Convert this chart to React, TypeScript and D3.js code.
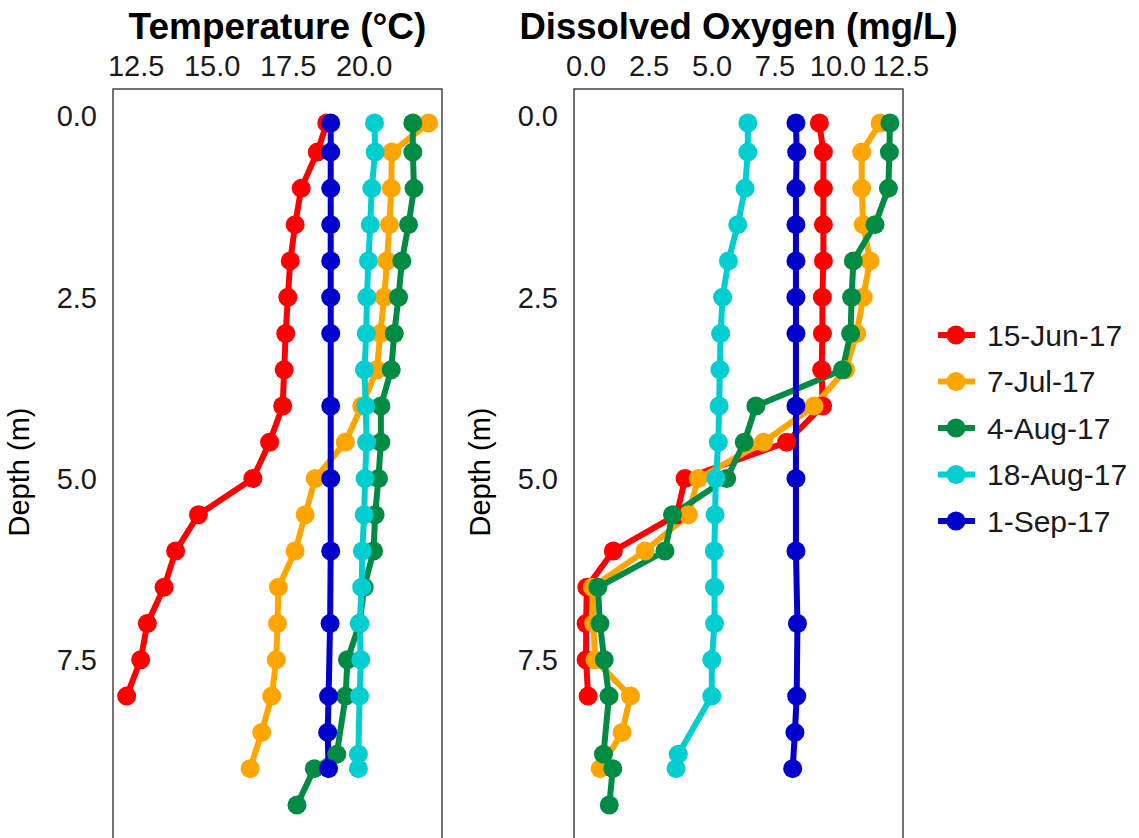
import React from "react";
import * as d3 from "d3";

const seriesNames = ["15-Jun-17", "7-Jul-17", "4-Aug-17", "18-Aug-17", "1-Sep-17"];
const seriesColors = ["#FF0000", "#FFA500", "#008B45", "#00CED1", "#0000CD"];

const depthJun = [0.1, 0.5, 1, 1.5, 2, 2.5, 3, 3.5, 4, 4.5, 5, 5.5, 6, 6.5, 7, 7.5, 8];
const depthJul = [0.1, 0.5, 1, 1.5, 2, 2.5, 3, 3.5, 4, 4.5, 5, 5.5, 6, 6.5, 7, 7.5, 8, 8.5, 9];
const depthAug4 = [0.1, 0.5, 1, 1.5, 2, 2.5, 3, 3.5, 4, 4.5, 5, 5.5, 6, 6.5, 7, 7.5, 8, 8.8, 9, 9.5];
const depthAug18 = [0.1, 0.5, 1, 1.5, 2, 2.5, 3, 3.5, 4, 4.5, 5, 5.5, 6, 6.5, 7, 7.5, 8, 8.8, 9];
const depthSep = [0.1, 0.5, 1, 1.5, 2, 2.5, 3, 4, 5, 6, 7, 8, 8.5, 9];

const tempJun = [18.77, 18.46, 17.93, 17.73, 17.57, 17.49, 17.42, 17.37, 17.32, 16.89, 16.34, 14.55, 13.8, 13.42, 12.87, 12.65, 12.19];
const tempJul = [22.12, 20.91, 20.89, 20.83, 20.75, 20.66, 20.53, 20.42, 19.92, 19.38, 18.39, 18.06, 17.73, 17.18, 17.15, 17.11, 16.96, 16.63, 16.25];
const tempAug4 = [21.6, 21.6, 21.64, 21.46, 21.24, 21.13, 20.99, 20.89, 20.55, 20.55, 20.47, 20.36, 20.31, 20.0, 19.85, 19.45, 19.39, 19.1, 18.36, 17.79];
const tempAug18 = [20.34, 20.36, 20.25, 20.2, 20.14, 20.09, 20.07, 20.01, 20.05, 20.08, 20.03, 20.0, 19.94, 19.92, 19.85, 19.89, 19.85, 19.81, 19.81];
const tempSep = [18.9, 18.9, 18.9, 18.9, 18.9, 18.9, 18.9, 18.9, 18.9, 18.9, 18.88, 18.83, 18.8, 18.83];

const doJun = [9.26, 9.42, 9.42, 9.42, 9.42, 9.38, 9.38, 9.35, 9.39, 7.96, 3.93, 3.6, 1.08, 0.03, 0.0, 0.0, 0.08];
const doJul = [11.67, 10.94, 10.94, 11.0, 11.27, 11.0, 10.74, 10.3, 9.05, 7.04, 4.45, 4.06, 2.34, 0.25, 0.3, 0.35, 1.76, 1.43, 0.56];
const doAug4 = [12.06, 12.04, 12.0, 11.47, 10.61, 10.54, 10.5, 10.18, 6.74, 6.28, 5.58, 3.43, 3.13, 0.47, 0.55, 0.72, 0.91, 0.69, 1.06, 0.92];
const doAug18 = [6.42, 6.42, 6.31, 6.02, 5.65, 5.42, 5.34, 5.31, 5.28, 5.25, 5.15, 5.12, 5.09, 5.1, 5.1, 4.99, 4.99, 3.66, 3.57];
const doSep = [8.33, 8.36, 8.33, 8.33, 8.33, 8.33, 8.33, 8.33, 8.33, 8.33, 8.39, 8.36, 8.29, 8.2];

const depthTicks = [0, 2.5, 5, 7.5];
const tempTicks = [12.5, 15, 17.5, 20];
const doTicks = [0, 2.5, 5, 7.5, 10, 12.5];

const depths = [depthJun, depthJul, depthAug4, depthAug18, depthSep];
const temps = [tempJun, tempJul, tempAug4, tempAug18, tempSep];
const dos = [doJun, doJul, doAug4, doAug18, doSep];

const FONT = "'Liberation Sans', Arial, Helvetica, sans-serif";
const PANEL_TOP = 89;
const PANEL_BOTTOM = 839;

const yScale = d3.scaleLinear().domain([-0.37, 9.97]).range([PANEL_TOP, PANEL_BOTTOM]);

type PanelProps = {
  title: string;
  titleSize: number;
  left: number;
  right: number;
  domain: [number, number];
  ticks: number[];
  values: number[][];
};

function Panel({ title, titleSize, left, right, domain, ticks, values }: PanelProps) {
  const x = d3.scaleLinear().domain(domain).range([left, right]);
  const line = d3
    .line<[number, number]>()
    .x((d) => x(d[0]))
    .y((d) => yScale(d[1]));
  const fmt = d3.format(".1f");
  const cx = (left + right) / 2;
  return (
    <g>
      <text x={cx} y={39} textAnchor="middle" fontFamily={FONT} fontWeight="bold" fontSize={titleSize} fill="#000">
        {title}
      </text>
      {ticks.map((t) => (
        <text key={"xt" + t} x={x(t)} y={76} textAnchor="middle" fontFamily={FONT} fontSize={29} fill="#1a1a1a">
          {fmt(t)}
        </text>
      ))}
      {depthTicks.map((t) => (
        <text key={"yt" + t} x={left - 16} y={yScale(t)} dy="0.36em" textAnchor="end" fontFamily={FONT} fontSize={29} fill="#1a1a1a">
          {fmt(t)}
        </text>
      ))}
      <text
        transform={`translate(${left - 84},${(PANEL_TOP + PANEL_BOTTOM) / 2 + 8}) rotate(-90)`}
        textAnchor="middle"
        fontFamily={FONT}
        fontSize={29}
        fill="#000"
      >
        Depth (m)
      </text>
      <rect x={left} y={PANEL_TOP} width={right - left} height={PANEL_BOTTOM - PANEL_TOP} fill="white" stroke="#444" strokeWidth={1.5} />
      {values.map((vals, i) => {
        const pts: [number, number][] = vals.map((v, j) => [v, depths[i][j]]);
        return <path key={"l" + i} d={line(pts) || ""} fill="none" stroke={seriesColors[i]} strokeWidth={6} strokeLinejoin="round" />;
      })}
      {values.map((vals, i) => (
        <g key={"p" + i}>
          {vals.map((v, j) => (
            <circle key={j} cx={x(v)} cy={yScale(depths[i][j])} r={9.5} fill={seriesColors[i]} />
          ))}
        </g>
      ))}
    </g>
  );
}

export default function App() {
  const legendY = d3.scaleLinear().domain([0, 4]).range([335, 521]);
  return (
    <svg width={1139} height={838} style={{ position: "absolute", left: 0, top: 0, background: "white" }}>
      <rect x={0} y={0} width={1139} height={838} fill="white" />
      <Panel title="Temperature (°C)" titleSize={37} left={113} right={442} domain={[11.74, 22.56]} ticks={tempTicks} values={temps} />
      <Panel title="Dissolved Oxygen (mg/L)" titleSize={36.5} left={574} right={903} domain={[-0.48, 12.58]} ticks={doTicks} values={dos} />
      {seriesNames.map((name, i) => {
        const y = legendY(i);
        return (
          <g key={name}>
            <line x1={938} x2={975} y1={y} y2={y} stroke={seriesColors[i]} strokeWidth={6} />
            <circle cx={956} cy={y} r={9.5} fill={seriesColors[i]} />
            <text x={987} y={y} dy="0.36em" fontFamily={FONT} fontSize={30} fill="#1a1a1a">
              {name}
            </text>
          </g>
        );
      })}
    </svg>
  );
}
